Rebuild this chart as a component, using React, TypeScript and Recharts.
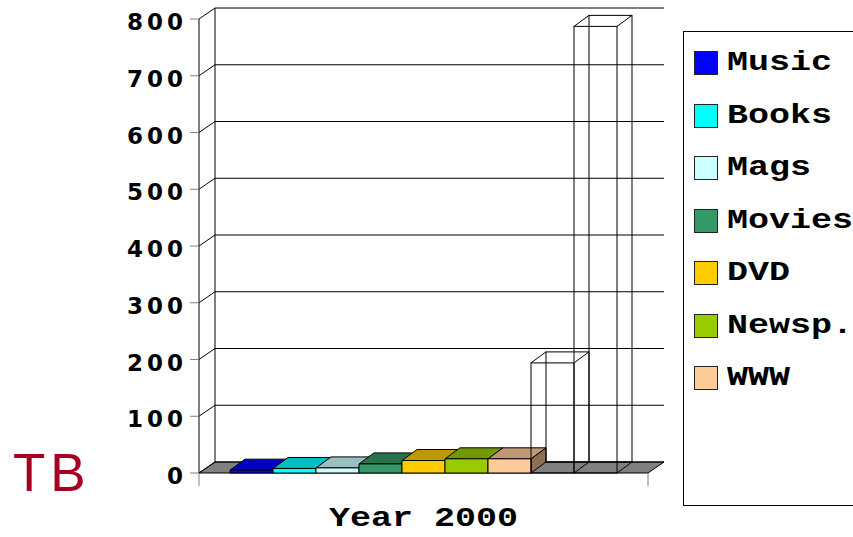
import React from 'react';
import { BarChart, Bar, XAxis, YAxis, CartesianGrid, Legend, Label } from 'recharts';

// ---- data ----
const categories = ['Year 2000'];
const seriesKeys = ['music', 'books', 'mags', 'movies', 'dvd', 'newsp', 'www', 'seriesH', 'seriesI'];
const seriesLabels = ['Music', 'Books', 'Mags', 'Movies', 'DVD', 'Newsp.', 'WWW', '', ''];
const seriesValues = [5, 8, 9, 16, 22, 25, 25, 194, 787];
const seriesColors: (string | null)[] = ['#0000FF', '#00FFFF', '#CCFFFF', '#339966', '#FFCC00', '#99CC00', '#FFCC99', null, null];
const yTicks = [0, 100, 200, 300, 400, 500, 600, 700, 800];
const unitLabel = 'TB';

const data = categories.map((c) => {
  const row: Record<string, string | number> = { category: c };
  seriesKeys.forEach((k, i) => {
    row[k] = seriesValues[i];
  });
  return row;
});

// ---- 3D look ----
const BAR_DX = 15;
const BAR_DY = 11;
const WALL_DX = 16;
const WALL_DY = 11;
const MONO = '"Liberation Mono", "DejaVu Sans Mono", monospace';
const MONO_SIZE = 28;
const MONO_STRETCH = 1.25;

function shade(hex: string, f: number) {
  const n = parseInt(hex.slice(1), 16);
  const r = Math.round(((n >> 16) & 255) * f);
  const g = Math.round(((n >> 8) & 255) * f);
  const b = Math.round((n & 255) * f);
  return `rgb(${r},${g},${b})`;
}

function Box3D(props: any) {
  const { x, y, width: w, height: h, color } = props;
  if (x == null || y == null || !w || h == null) return null;
  const top = `${x},${y} ${x + BAR_DX},${y - BAR_DY} ${x + w + BAR_DX},${y - BAR_DY} ${x + w},${y}`;
  const side = `${x + w},${y} ${x + w + BAR_DX},${y - BAR_DY} ${x + w + BAR_DX},${y + h - BAR_DY} ${x + w},${y + h}`;
  if (!color) {
    // see-through box: wire edges only
    return (
      <g fill="none" stroke="#000" strokeWidth={1}>
        <rect x={x + BAR_DX} y={y - BAR_DY} width={w} height={h} />
        <rect x={x} y={y} width={w} height={h} />
        <line x1={x} y1={y} x2={x + BAR_DX} y2={y - BAR_DY} />
        <line x1={x + w} y1={y} x2={x + w + BAR_DX} y2={y - BAR_DY} />
        <line x1={x + w} y1={y + h} x2={x + w + BAR_DX} y2={y + h - BAR_DY} />
      </g>
    );
  }
  return (
    <g stroke="#000" strokeWidth={1} strokeLinejoin="round">
      <polygon points={side} fill={shade(color, 0.55)} />
      <polygon points={top} fill={shade(color, 0.75)} />
      <rect x={x} y={y} width={w} height={h} fill={color} />
    </g>
  );
}

// back wall gridlines, side wall diagonals, floor
function WallLine(p: any) {
  const { x1, y1, x2, index, x, y, width, height } = p;
  const bottom = y + height;
  return (
    <g key={`wall-${index}`}>
      {index === 0 && (
        <g>
          <line x1={x + WALL_DX} y1={y - WALL_DY} x2={x + WALL_DX} y2={bottom - WALL_DY} stroke="#000" />
          <polygon
            points={`${x},${bottom} ${x + width},${bottom} ${x + width + WALL_DX},${bottom - WALL_DY} ${x + WALL_DX},${bottom - WALL_DY}`}
            fill="#808080"
            stroke="#000"
          />
          <line x1={x} y1={bottom} x2={x} y2={bottom + 13} stroke="#808080" />
          <line x1={x + width} y1={bottom} x2={x + width} y2={bottom + 13} stroke="#808080" />
        </g>
      )}
      <line x1={x1} y1={y1} x2={x1 + WALL_DX} y2={y1 - WALL_DY} stroke="#000" />
      <line x1={x1 + WALL_DX} y1={y1 - WALL_DY} x2={x2 + WALL_DX} y2={y1 - WALL_DY} stroke="#000" />
    </g>
  );
}

function CategoryTick(p: any) {
  const { x, y, payload } = p;
  return (
    <g transform={`translate(${x},${y + 45}) scale(${MONO_STRETCH},1)`}>
      <text
        x={0}
        y={0}
        textAnchor="middle"
        fontFamily={MONO}
        fontWeight="bold"
        fontSize={MONO_SIZE}
        fill="#000"
      >
        {payload.value}
      </text>
    </g>
  );
}

function ValueTick(p: any) {
  const { x, y, payload } = p;
  return (
    <text
      x={x}
      y={y}
      dy={11}
      textAnchor="end"
      fontFamily='"DejaVu Sans", Verdana, sans-serif'
      fontWeight="bold"
      fontSize={23}
      letterSpacing={4}
      fill="#000"
    >
      {payload.value}
    </text>
  );
}

function UnitLabel(p: any) {
  const vb = p.viewBox || { x: 0, y: 0, height: 0 };
  return (
    <text
      x={vb.x + 13}
      y={vb.y + vb.height + 18}
      fontFamily='"Liberation Sans", Arial, sans-serif'
      fontSize={53}
      letterSpacing={5}
      fill="#A50021"
    >
      {unitLabel}
    </text>
  );
}

function LegendBox() {
  return (
    <div
      style={{
        boxSizing: 'border-box',
        width: 170,
        height: 475,
        borderLeft: '1px solid #000',
        borderTop: '1px solid #000',
        borderBottom: '1px solid #000',
        background: '#fff',
        overflow: 'hidden',
        paddingTop: 19,
        paddingLeft: 10,
      }}
    >
      {seriesLabels.map((label, i) =>
        label ? (
          <div key={label} style={{ display: 'flex', alignItems: 'center', height: 24, marginBottom: 28.5 }}>
            <div
              style={{
                boxSizing: 'border-box',
                width: 24,
                height: 24,
                background: seriesColors[i] as string,
                border: '1px solid #222',
                flex: 'none',
              }}
            />
            <span
              style={{
                display: 'inline-block',
                marginLeft: 9,
                fontFamily: MONO,
                fontWeight: 'bold',
                fontSize: MONO_SIZE,
                lineHeight: 1,
                whiteSpace: 'nowrap',
                color: '#000',
                transform: `scaleX(${MONO_STRETCH})`,
                transformOrigin: 'left center',
              }}
            >
              {label}
            </span>
          </div>
        ) : null
      )}
    </div>
  );
}

export default function App() {
  return (
    <div style={{ position: 'absolute', left: 0, top: 0, background: '#fff' }}>
      <BarChart
        width={853}
        height={537}
        data={data}
        margin={{ top: 19, right: 205, bottom: 0, left: 0 }}
        barCategoryGap={31}
        barGap={0}
      >
        <CartesianGrid vertical={false} horizontal={WallLine} />
        <XAxis dataKey="category" height={64} axisLine={false} tickLine={false} tick={CategoryTick} />
        <YAxis
          domain={[0, 800]}
          ticks={yTicks}
          interval={0}
          width={199}
          tickSize={9}
          tickMargin={3}
          axisLine={{ stroke: '#000' }}
          tickLine={{ stroke: '#808080' }}
          tick={ValueTick}
        >
          <Label content={UnitLabel} />
        </YAxis>
        <Legend
          layout="vertical"
          align="center"
          verticalAlign="middle"
          wrapperStyle={{ left: 683, top: 31, width: 170, height: 475 }}
          content={LegendBox}
        />
        {seriesKeys.map((k, i) => (
          <Bar
            key={k}
            dataKey={k}
            name={seriesLabels[i] || k}
            legendType={seriesLabels[i] ? 'square' : 'none'}
            fill={seriesColors[i] || 'none'}
            isAnimationActive={false}
            shape={(p: any) => <Box3D {...p} color={seriesColors[i]} />}
          />
        ))}
      </BarChart>
    </div>
  );
}
